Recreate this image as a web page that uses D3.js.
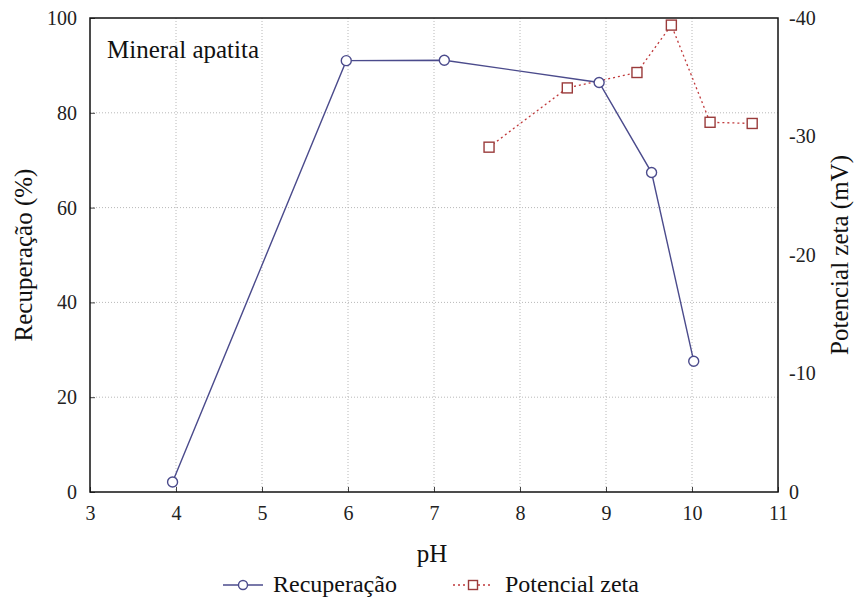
<!DOCTYPE html>
<html>
<head>
<meta charset="utf-8">
<script src="https://cdn.jsdelivr.net/npm/d3@7"></script>
<style>
  html, body { margin: 0; padding: 0; background: #fff; }
  svg text { font-family: "Liberation Serif", Tinos, "DejaVu Serif", "Noto Serif", "Times New Roman", serif; }
</style>
</head>
<body>
<div id="chart"></div>
<script>
// pH and recovery (%) values
const phRec = [3.96, 5.98, 7.12, 8.92, 9.53, 10.02];
const recuperacao = [2.1, 91.0, 91.1, 86.4, 67.4, 27.6];

// pH and zeta potential (mV)
const phZeta = [7.64, 8.55, 9.36, 9.76, 10.21, 10.70];
const zeta = [-29.1, -34.1, -35.4, -39.4, -31.2, -31.1];

const xTicks = [3, 4, 5, 6, 7, 8, 9, 10, 11];
const yLeftTicks = [0, 20, 40, 60, 80, 100];
const yRightTicks = [0, -10, -20, -30, -40];

const width = 858, height = 600;
const margin = { top: 18, right: 80, bottom: 108, left: 90 };
const w = width - margin.left - margin.right;
const h = height - margin.top - margin.bottom;

const svg = d3.select("#chart").append("svg")
    .attr("width", width)
    .attr("height", height);

const g = svg.append("g")
    .attr("transform", `translate(${margin.left},${margin.top})`);

const x = d3.scaleLinear().domain([3, 11]).range([0, w]);
const yL = d3.scaleLinear().domain([0, 100]).range([h, 0]);
const yR = d3.scaleLinear().domain([0, -40]).range([h, 0]);

const blue = "#4b4b8c";
const red = "#c0393b";
const brown = "#9a3b3b";

// grid
g.append("g")
    .selectAll("line")
    .data(xTicks.slice(1, -1))
    .enter().append("line")
    .attr("x1", d => x(d)).attr("x2", d => x(d))
    .attr("y1", 0).attr("y2", h)
    .attr("stroke", "#b8b8b8")
    .attr("stroke-width", 1)
    .attr("stroke-dasharray", "1,2");

g.append("g")
    .selectAll("line")
    .data(yLeftTicks.slice(1, -1))
    .enter().append("line")
    .attr("x1", 0).attr("x2", w)
    .attr("y1", d => yL(d)).attr("y2", d => yL(d))
    .attr("stroke", "#b8b8b8")
    .attr("stroke-width", 1)
    .attr("stroke-dasharray", "1,2");

// axes
const xAxis = g.append("g")
    .attr("transform", `translate(0,${h})`)
    .call(d3.axisBottom(x).tickValues(xTicks).tickSize(-5).tickPadding(14).tickFormat(d => String(d)));

const yAxisL = g.append("g")
    .call(d3.axisLeft(yL).tickValues(yLeftTicks).tickSize(-5).tickPadding(13).tickFormat(d => String(d)));

const yAxisR = g.append("g")
    .attr("transform", `translate(${w},0)`)
    .call(d3.axisRight(yR).tickValues(yRightTicks).tickSize(0).tickPadding(11).tickFormat(d => String(d)));

[xAxis, yAxisL, yAxisR].forEach(a => {
    a.attr("font-family", null);
    a.select(".domain").remove();
    a.selectAll("text")
        .attr("font-size", 20)
        .attr("fill", "#222");
    a.selectAll("line").attr("stroke", "#444");
});

// frame
g.append("rect")
    .attr("x", 0).attr("y", 0)
    .attr("width", w).attr("height", h)
    .attr("fill", "none")
    .attr("stroke", "#111")
    .attr("stroke-width", 1.5);

// zeta series
const zetaData = phZeta.map((p, i) => [p, zeta[i]]);
g.append("path")
    .datum(zetaData)
    .attr("fill", "none")
    .attr("stroke", red)
    .attr("stroke-width", 1.3)
    .attr("stroke-dasharray", "2,3")
    .attr("d", d3.line().x(d => x(d[0])).y(d => yR(d[1])));

g.append("g")
    .selectAll("rect")
    .data(zetaData)
    .enter().append("rect")
    .attr("x", d => x(d[0]) - 5)
    .attr("y", d => yR(d[1]) - 5)
    .attr("width", 10).attr("height", 10)
    .attr("fill", "#fff")
    .attr("stroke", brown)
    .attr("stroke-width", 1.4);

// recovery series
const recData = phRec.map((p, i) => [p, recuperacao[i]]);
g.append("path")
    .datum(recData)
    .attr("fill", "none")
    .attr("stroke", blue)
    .attr("stroke-width", 1.4)
    .attr("d", d3.line().x(d => x(d[0])).y(d => yL(d[1])));

g.append("g")
    .selectAll("circle")
    .data(recData)
    .enter().append("circle")
    .attr("cx", d => x(d[0]))
    .attr("cy", d => yL(d[1]))
    .attr("r", 5)
    .attr("fill", "#fff")
    .attr("stroke", blue)
    .attr("stroke-width", 1.4);

// inner title
g.append("text")
    .attr("x", 17).attr("y", 40)
    .attr("font-size", 25)
    .attr("fill", "#111")
    .text("Mineral apatita");

// axis titles
svg.append("text")
    .attr("x", 432).attr("y", 562)
    .attr("text-anchor", "middle")
    .attr("font-size", 25)
    .attr("fill", "#111")
    .text("pH");

svg.append("text")
    .attr("transform", "translate(32,255) rotate(-90)")
    .attr("text-anchor", "middle")
    .attr("font-size", 25)
    .attr("fill", "#111")
    .text("Recuperação (%)");

svg.append("text")
    .attr("transform", "translate(848,255) rotate(-90)")
    .attr("text-anchor", "middle")
    .attr("font-size", 25)
    .attr("fill", "#111")
    .text("Potencial zeta (mV)");

// legend
const leg = svg.append("g");
leg.append("line")
    .attr("x1", 223).attr("x2", 263).attr("y1", 585).attr("y2", 585)
    .attr("stroke", blue).attr("stroke-width", 1.4);
leg.append("circle")
    .attr("cx", 243).attr("cy", 585).attr("r", 4.5)
    .attr("fill", "#fff").attr("stroke", blue).attr("stroke-width", 1.4);
leg.append("text")
    .attr("x", 273).attr("y", 592)
    .attr("font-size", 24).attr("fill", "#111")
    .text("Recuperação");

leg.append("line")
    .attr("x1", 453).attr("x2", 493).attr("y1", 585).attr("y2", 585)
    .attr("stroke", red).attr("stroke-width", 1.3).attr("stroke-dasharray", "2,3");
leg.append("rect")
    .attr("x", 468.5).attr("y", 580.5).attr("width", 9).attr("height", 9)
    .attr("fill", "#fff").attr("stroke", brown).attr("stroke-width", 1.4);
leg.append("text")
    .attr("x", 505).attr("y", 592)
    .attr("font-size", 24).attr("fill", "#111")
    .text("Potencial zeta");
</script>
</body>
</html>
